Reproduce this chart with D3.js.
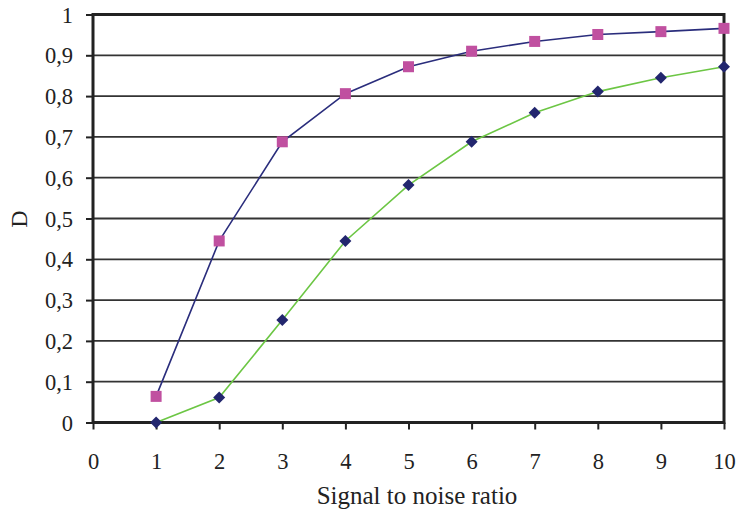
<!DOCTYPE html>
<html><head><meta charset="utf-8">
<script src="https://cdn.jsdelivr.net/npm/d3@7"></script>
<style>body{margin:0;background:#fff}</style>
</head><body>
<svg id="c" width="736" height="513"></svg>
<script>
const xValues = [1,2,3,4,5,6,7,8,9,10];
const seriesUpper = [0.064,0.445,0.688,0.806,0.872,0.910,0.934,0.951,0.958,0.966];
const seriesLower = [0.000,0.061,0.251,0.445,0.582,0.688,0.759,0.811,0.845,0.872];
const xTicks = [0,1,2,3,4,5,6,7,8,9,10];
const yTicks = [0,0.1,0.2,0.3,0.4,0.5,0.6,0.7,0.8,0.9,1];

const svg = d3.select("#c");
const L=93, R=724, T=14.5, B=422.5;
const x = d3.scaleLinear().domain([0,10]).range([L,R]);
const y = d3.scaleLinear().domain([0,1]).range([B,T]);
const font = "'Liberation Serif','Times New Roman',serif";
const fmt = d => d===0||d===1 ? String(d) : d3.format(".1f")(d).replace(".",",");

// gridlines
svg.append("g").selectAll("line").data(yTicks.filter(d=>d>0&&d<1)).join("line")
  .attr("x1",L).attr("x2",R).attr("y1",d=>y(d)).attr("y2",d=>y(d))
  .attr("stroke","#333").attr("stroke-width",1.8);

// y axis
const ya = svg.append("g").attr("transform",`translate(${L},0)`)
  .call(d3.axisLeft(y).tickValues(yTicks).tickFormat(fmt).tickSize(7).tickPadding(13));
ya.select(".domain").remove();
ya.selectAll("line").attr("stroke","#222").attr("stroke-width",2);
ya.selectAll("text").attr("font-family",font).attr("font-size",22.5).attr("fill","#222").attr("dy","0.34em");

// x axis
const xa = svg.append("g").attr("transform",`translate(0,${B})`)
  .call(d3.axisBottom(x).tickValues(xTicks).tickFormat(d3.format("d")).tickSize(7).tickPadding(24));
xa.select(".domain").remove();
xa.selectAll("line").attr("stroke","#222").attr("stroke-width",2);
xa.selectAll("text").attr("font-family",font).attr("font-size",22.5).attr("fill","#222");

// frame
svg.append("rect").attr("x",L).attr("y",T).attr("width",R-L).attr("height",B-T)
  .attr("fill","none").attr("stroke","#222").attr("stroke-width",3);

const line = d3.line().x((d,i)=>x(xValues[i])).y(d=>y(d));

svg.append("path").datum(seriesLower).attr("d",line)
  .attr("fill","none").attr("stroke","#6cc644").attr("stroke-width",1.6);
svg.append("path").datum(seriesUpper).attr("d",line)
  .attr("fill","none").attr("stroke","#2a2d7c").attr("stroke-width",1.6);

// markers lower: diamonds
svg.append("g").selectAll("path").data(seriesLower).join("path")
  .attr("transform",(d,i)=>`translate(${x(xValues[i])},${y(d)})`)
  .attr("d","M0,-6L6,0L0,6L-6,0Z").attr("fill","#22266e");
// markers upper: squares
svg.append("g").selectAll("rect").data(seriesUpper).join("rect")
  .attr("x",(d,i)=>x(xValues[i])-5.5).attr("y",d=>y(d)-5.5)
  .attr("width",11).attr("height",11).attr("fill","#c050a0");

// titles
svg.append("text").attr("x",417).attr("y",504).attr("text-anchor","middle")
  .attr("font-family",font).attr("font-size",25).attr("fill","#222").text("Signal to noise ratio");
svg.append("text").attr("transform",`translate(27,219) rotate(-90)`).attr("text-anchor","middle")
  .attr("font-family",font).attr("font-size",24).attr("fill","#222").text("D");
</script>
</body></html>
